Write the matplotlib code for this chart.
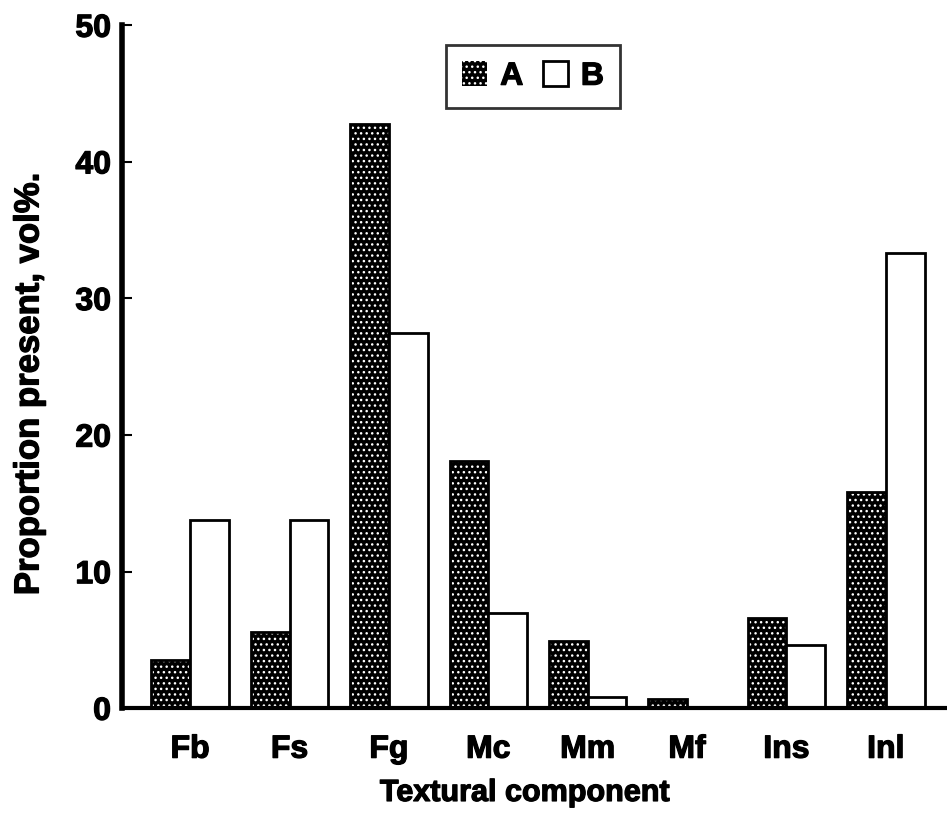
import numpy as np
import matplotlib.pyplot as plt
import matplotlib.patheffects as pe
from matplotlib.patches import Patch

plt.rcParams['font.family'] = ['Liberation Sans', 'DejaVu Sans']
plt.rcParams['font.weight'] = 'bold'

# volume % of each textural component, two samples
components = ['Fb', 'Fs', 'Fg', 'Mc', 'Mm', 'Mf', 'Ins', 'Inl']
sample_a = [3.5, 5.6, 42.8, 18.1, 4.9, 0.7, 6.6, 15.8]
sample_b = [13.8, 13.8, 27.5, 7.0, 0.8, 0.0, 4.6, 33.3]

heavy = [pe.withStroke(linewidth=0.9, foreground='black')]

fig = plt.figure(figsize=(9.47, 8.16), dpi=100)
fig.patch.set_facecolor('white')
ax = fig.add_axes([0.129, 0.132, 0.871, 0.837])

x = np.arange(len(components))
w = 0.39

# dark dotted fill: black bar, white dot hatch on top, black outline
ax.bar(x - w/2, sample_a, w, color='black', linewidth=0)
ax.bar(x - w/2, sample_a, w, color='none', edgecolor='white', hatch='...', linewidth=0)
ax.bar(x - w/2, sample_a, w, color='none', edgecolor='black', linewidth=2)
ax.bar(x + w/2, sample_b, w, color='white', edgecolor='black', linewidth=2)

ax.set_xlim(-0.684, 7.616)
ax.set_ylim(0, 50)
ax.set_yticks([0, 10, 20, 30, 40, 50])
ax.set_xticks(x)
ax.set_xticklabels(components, fontsize=23, fontweight='bold')
ax.tick_params(axis='x', length=0, pad=19)
ax.tick_params(axis='y', direction='in', length=7, width=1.5, pad=8, labelsize=23)
for t in ax.get_yticklabels() + ax.get_xticklabels():
    t.set_fontweight('bold')
    t.set_path_effects(heavy)

for s in ['top', 'right']:
    ax.spines[s].set_visible(False)
ax.spines['left'].set_linewidth(4)
ax.spines['bottom'].set_linewidth(3)

ax.set_xlabel('Textural component', fontsize=22, fontweight='bold', path_effects=heavy)
ax.set_ylabel('Proportion present, vol%.', fontsize=25, fontweight='bold', path_effects=heavy)
ax.xaxis.set_label_coords(0.488, -0.102)
ax.yaxis.set_label_coords(-0.093, 0.475)

# legend handles
ha = Patch(facecolor='black', edgecolor='white', hatch='...', linewidth=0)
hb = Patch(facecolor='white', edgecolor='black', linewidth=2)
leg = ax.legend([ha, hb], ['A', 'B'], ncol=2, loc='center',
                bbox_to_anchor=(0.498, 0.925), fontsize=23, frameon=True,
                fancybox=False, edgecolor='black', handlelength=0.8,
                handleheight=0.8, handletextpad=0.4, columnspacing=0.6,
                borderpad=0.5, borderaxespad=0)
leg.get_frame().set_linewidth(2)
for t in leg.get_texts():
    t.set_fontweight('bold')
    t.set_path_effects(heavy)

fig.savefig('out.png', dpi=100)
